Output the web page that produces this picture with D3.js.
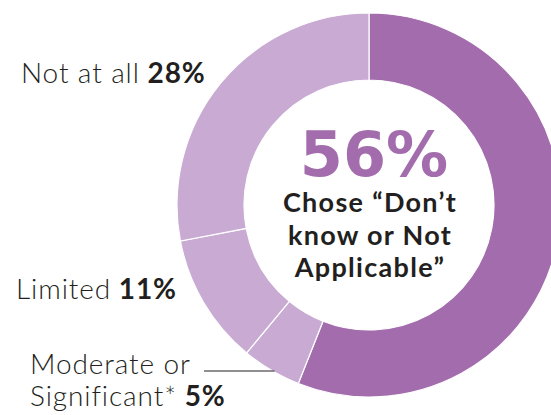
<!DOCTYPE html>
<html>
<head>
<meta charset="utf-8">
<script src="https://cdn.jsdelivr.net/npm/d3@7"></script>
<style>
  html, body { margin: 0; padding: 0; background: #fff; }
  svg { display: block; }
  text { font-family: Lato, "Open Sans", sans-serif; fill: #231f20; }
</style>
</head>
<body>
<svg id="chart" width="551" height="415"></svg>
<script>
// Share of responses, clockwise from 12 o'clock
const categories = ["Don't know or Not Applicable", "Moderate or Significant*", "Limited", "Not at all"];
const values = [56, 5, 11, 28];
const sliceColors = ["#a36dad", "#c8aad3", "#c8aad3", "#c8aad3"];

const width = 551, height = 415;
const cx = 369, cy = 205;
const outerR = 192, innerR = 125;

const svg = d3.select("#chart");
const g = svg.append("g").attr("transform", `translate(${cx},${cy})`);

const pie = d3.pie().sort(null).value(d => d.value);
const arc = d3.arc().innerRadius(innerR).outerRadius(outerR);
const data = categories.map((c, i) => ({ name: c, value: values[i], color: sliceColors[i] }));

g.selectAll("path.slice")
  .data(pie(data))
  .join("path")
  .attr("class", "slice")
  .attr("d", arc)
  .attr("fill", d => d.data.color)
  .attr("stroke", "#fff")
  .attr("stroke-width", 1.2);

// Centre callout for the largest slice
g.append("text")
  .attr("x", 5).attr("y", -29)
  .attr("text-anchor", "middle")
  .style("font-family", "'DejaVu Sans', sans-serif")
  .style("font-size", "62px").style("font-weight", 700)
  .style("fill", sliceColors[0])
  .text(values[0] + "%");

const centerLines = ["Chose \u201cDon\u2019t", "know or Not", "Applicable\u201d"];
g.append("g").selectAll("text")
  .data(centerLines)
  .join("text")
  .attr("x", 1)
  .attr("y", (d, i) => 7 + i * 32.5)
  .attr("text-anchor", "middle")
  .style("font-size", "27px").style("font-weight", 700)
  .style("letter-spacing", "1.3px")
  .text(d => d);

// Outside labels: name in light weight, value in bold
function label(x, y, lines) {
  const t = svg.append("text").attr("x", x).attr("y", y)
    .style("font-size", "28px").style("letter-spacing", "0.9px");
  lines.forEach((ln, i) => {
    t.append("tspan").attr("x", x).attr("dy", i === 0 ? 0 : 32)
      .style("font-weight", 300).text(ln.text);
    if (ln.value != null) {
      t.append("tspan").style("font-weight", 700).text(" " + ln.value + "%");
    }
  });
  return t;
}

label(21, 83, [{ text: "Not at all", value: values[3] }]);
label(16, 299, [{ text: "Limited", value: values[2] }]);
label(30, 374, [{ text: "Moderate or" }, { text: "Significant*", value: values[1] }]);

// Leader from the small-slice label to the ring's outer edge
const leaderY = 371;
const edgeX = cx - Math.sqrt(outerR * outerR - (leaderY - cy) * (leaderY - cy));
svg.append("line")
  .attr("x1", 204).attr("x2", edgeX + 2)
  .attr("y1", leaderY).attr("y2", leaderY)
  .attr("stroke", "#231f20").attr("stroke-width", 1.2);
</script>
</body>
</html>
